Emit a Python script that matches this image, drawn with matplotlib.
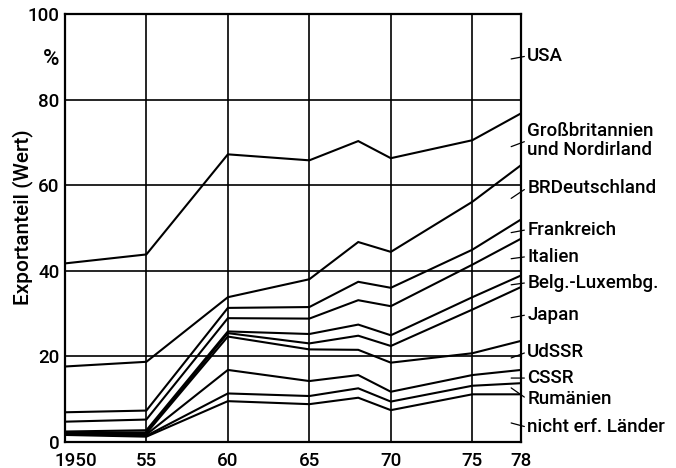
import matplotlib
matplotlib.use("Agg")
import matplotlib.pyplot as plt
import matplotlib.transforms as mtrans
import numpy as np

plt.rcParams['font.family'] = ['Roboto', 'DejaVu Sans']
plt.rcParams['font.weight'] = 'medium'

# Jahre (1968 als Zwischenpunkt)
jahre = [1950, 1955, 1960, 1965, 1968, 1970, 1975, 1978]

# Exportanteile in %, von unten nach oben gestapelt
nicht_erf = [1.6, 1.2, 9.5, 8.8, 10.3, 7.4, 11.1, 11.1]
rumaenien = [0.2, 0.2, 1.8, 1.9, 2.2, 2.0, 2.0, 2.6]
cssr = [0.1, 0.3, 5.5, 3.5, 3.1, 2.3, 2.5, 3.1]
udssr = [0.1, 0.3, 7.8, 7.4, 5.9, 6.8, 5.1, 6.8]
japan = [0.2, 0.2, 0.8, 1.4, 3.3, 3.9, 10.2, 12.6]
belg_lux = [0.2, 0.5, 0.4, 2.2, 2.6, 2.5, 2.9, 2.7]
italien = [2.3, 2.5, 3.1, 3.6, 5.7, 6.8, 7.6, 8.6]
frankreich = [2.2, 2.1, 2.4, 2.7, 4.3, 4.3, 3.5, 4.5]
brd = [10.7, 11.4, 2.5, 6.5, 9.3, 8.4, 11.2, 12.7]
gb = [24.1, 25.1, 33.4, 27.8, 23.6, 21.9, 14.4, 12.1]
usa = [58.3, 56.2, 32.8, 34.2, 29.7, 33.7, 29.5, 23.2]

reihen = [nicht_erf, rumaenien, cssr, udssr, japan, belg_lux,
          italien, frankreich, brd, gb]

# Beschriftungen rechts: Text, y-Lage des Textes, y-Lage des Strichendes
namen = ["USA", "Großbritannien\nund Nordirland", "BRDeutschland",
         "Frankreich", "Italien", "Belg.-Luxembg.", "Japan", "UdSSR",
         "CSSR", "Rumänien", "nicht erf. Länder"]
text_y = [90.2, 70.4, 59.4, 49.6, 43.3, 37.2, 29.7, 21.0, 14.9, 10.0, 3.4]
strich_y = [89.5, 69.0, 56.9, 48.9, 42.8, 36.7, 29.0, 19.6, 14.9, 12.6, 4.4]

fig = plt.figure(figsize=(6.76, 4.68), dpi=100)
ax = fig.add_axes([0.096, 0.056, 0.675, 0.914])

kumuliert = np.cumsum(np.array(reihen), axis=0)
for linie in kumuliert:
    ax.plot(jahre, linie, color='black', lw=1.5, solid_joinstyle='miter')

ax.set_xlim(1950, 1978)
ax.set_ylim(0, 100)

ax.set_xticks([1950, 1955, 1960, 1965, 1970, 1975, 1978])
ax.set_xticklabels(["1950", "55", "60", "65", "70", "75", "78"])
ax.set_yticks([0, 20, 40, 60, 80, 90, 100])
ax.set_yticklabels(["0", "20", "40", "60", "80", "%", "100"])
ax.tick_params(length=0, labelsize=13.5, colors='black')
ax.tick_params(axis='x', pad=7)
ax.tick_params(axis='y', pad=4)
ax.get_yticklabels()[5].set_fontsize(16)

# 1950 etwas nach rechts versetzt wie im Original
lab = ax.get_xticklabels()[0]
lab.set_transform(lab.get_transform() + mtrans.ScaledTranslation(0.11, 0, fig.dpi_scale_trans))

for g in [1955, 1960, 1965, 1970, 1975]:
    ax.axvline(g, color='black', lw=1.2, zorder=0)
for g in [20, 40, 60, 80]:
    ax.axhline(g, color='black', lw=1.2, zorder=0)

for s in ax.spines.values():
    s.set_linewidth(1.6)

for name, ty, sy in zip(namen, text_y, strich_y):
    ax.annotate(name, xy=(0.978, sy), xycoords=('axes fraction', 'data'),
                xytext=(1.013, ty), textcoords=('axes fraction', 'data'),
                ha='left', va='center', fontsize=13.5, linespacing=1.1,
                annotation_clip=False,
                arrowprops=dict(arrowstyle='-', lw=0.9, color='black',
                                shrinkA=0, shrinkB=0, relpos=(0, 0.5)))

fig.text(23 / 676, 1 - 217 / 468, "Exportanteil (Wert)", rotation=90,
         ha='center', va='center', fontsize=15)

fig.savefig("out.png", dpi=100, facecolor='white')
